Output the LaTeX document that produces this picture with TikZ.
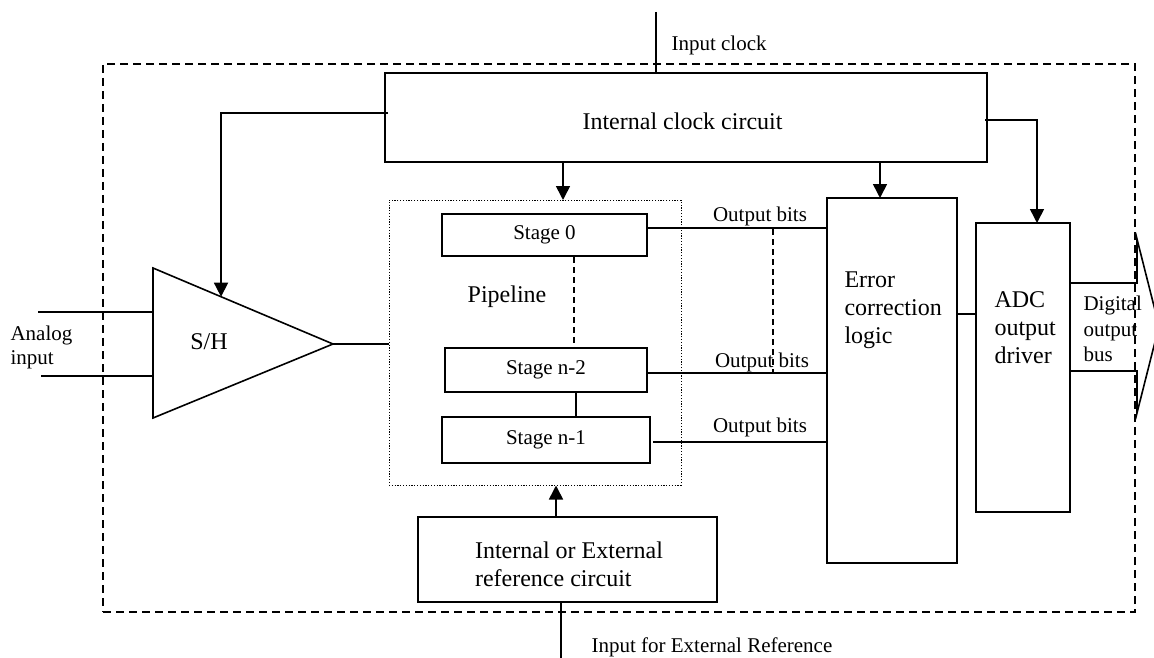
\documentclass[tikz,border=0pt]{standalone}
\usepackage{fontspec}
\setmainfont{Liberation Serif}
\usetikzlibrary{arrows.meta,calc}
\tikzset{
 ln/.style={line width=1.6pt},
 box/.style={draw, line width=1.6pt, rectangle, inner sep=0pt},
 arr/.style={ln, -{Triangle[length=14pt,width=14pt]}},
 big/.style={font=\fontsize{24}{28}\selectfont},
 small/.style={font=\fontsize{21}{24}\selectfont},
 outerbox/.style={draw, line width=1.8pt, dash pattern=on 8pt off 5pt, rectangle, inner sep=0pt},
 dotbox/.style={draw, line width=1pt, dash pattern=on 1.2pt off 1.6pt, rectangle, inner sep=0pt},
 dsh/.style={ln, dash pattern=on 6pt off 4pt},
}
\begin{document}
\begin{tikzpicture}[x=1pt,y=-1pt]
\useasboundingbox (0,0) rectangle (1154,658);
\clip (0,0) rectangle (1154,658);

% outer dashed boundary
\node[outerbox, minimum width=1032pt, minimum height=548pt] (outer) at (619,338) {};

% blocks
\node[box,minimum width=602pt,minimum height=89pt] (clk) at (686,117.5) {};
\node[big] (clkt) at (682.5,121.5) {Internal clock circuit};
\node[dotbox, minimum width=292pt, minimum height=285pt] (pipe) at (535,342.5) {};
\node[box,small,minimum width=205pt,minimum height=42pt] (s0) at (544.5,235) {Stage 0};
\node[box,small,minimum width=202pt,minimum height=44pt] (s2) at (546,370) {Stage n-2};
\node[box,small,minimum width=208pt,minimum height=46pt] (s1) at (546,440) {Stage n-1};
\node[big] (pl) at (507,297) {Pipeline};

\node[box, minimum width=130pt, minimum height=365pt] (err) at (892,380.5) {};
\node[big, align=left, anchor=west] (errt) at (841,310) {Error\\correction\\logic};

\node[box, minimum width=94pt, minimum height=289pt] (adc) at (1023,367.5) {};
\node[big, align=left, anchor=west] (adct) at (991,328) {ADC\\output\\driver};

\node[box,minimum width=299pt,minimum height=85pt] (ref) at (567.5,559.5) {};
\node[big,align=left] (reft) at (569,564) {Internal or External\\reference circuit};

% S/H amplifier
\coordinate (shA) at (153,268);
\coordinate (shB) at (153,418);
\coordinate (shT) at (333,344);
\draw[ln, line join=miter] (shA) -- (shT) -- (shB) -- cycle;
\node[big] (sh) at (209,342) {S/H};
\coordinate (shIn) at ($(shA)!0.378!(shT)$);

% input clock
\coordinate (ck) at (656,12);
\draw[ln] (ck) -- (ck |- clk.north);
\node[small, anchor=west] (ckl) at (668,45) {Input clock};

% clock distribution
\coordinate (ls) at (388,113);
\draw[arr] (ls) -| (shIn);
\coordinate (rs) at (985,120);
\coordinate (adcin) at (1037,223);
\draw[arr] (rs) -| (adcin);
\coordinate (pin) at (563,200);
\draw[arr] (clk.south -| pin) -- (pin);
\coordinate (ein) at (880,198);
\draw[arr] (clk.south -| ein) -- (ein);

% S/H output and analog inputs
\draw[ln] (shT) -- (shT -| pipe.west);
\coordinate (a1) at (38,312);
\draw[ln] (a1) -- (a1 -| shA);
\coordinate (a2) at (41,376);
\draw[ln] (a2) -- (a2 -| shA);
\node[small, align=left, anchor=west] (ai) at (7,347) {Analog\\input};

% stage links
\coordinate (d1) at (574,0);
\draw[dsh] (s0.south -| d1) -- (s2.north -| d1);
\coordinate (d2) at (576,0);
\draw[ln] (s2.south -| d2) -- (s1.north -| d2);

% output bits
\coordinate (o1) at (0,228);
\draw[ln] (s0.east |- o1) -- (err.west |- o1);
\coordinate (o2) at (0,373);
\draw[ln] (s2.east |- o2) -- (err.west |- o2);
\coordinate (o3) at (653,442);
\draw[ln] (o3) -- (err.west |- o3);
\node[small] (ob1) at (760,216) {Output bits};
\node[small] (ob2) at (762,362) {Output bits};
\node[small] (ob3) at (760,427) {Output bits};
\coordinate (dd) at (773,229);
\draw[dsh] (dd) -- (dd |- o2);

% error -> adc
\coordinate (e2) at (0,314);
\draw[ln] (err.east |- e2) -- (adc.west |- e2);

% digital output bus
\coordinate (b1) at (1137,283);
\coordinate (b2) at (1137,371);
\coordinate (b3) at (1137,239);
\coordinate (b4) at (1159,326);
\coordinate (b5) at (1137,413);
\draw[ln, line join=miter] (adc.east |- b1) -- (b1) -- (b3) -- (b4) -- (b5) -- (b2) -- (adc.east |- b2);
\node[small, align=left, anchor=west, font=\fontsize{21}{25.5}\selectfont] (dob) at (1080,329) {Digital\\output\\bus};

% reference
\coordinate (rin) at (556,0);
\draw[arr] (ref.north -| rin) -- (pipe.south -| rin);
\coordinate (ex) at (561,662);
\draw[ln] (ref.south -| ex) -- (ex);
\node[small, anchor=west] (exl) at (588,647) {Input for External Reference};
\end{tikzpicture}
\end{document}
